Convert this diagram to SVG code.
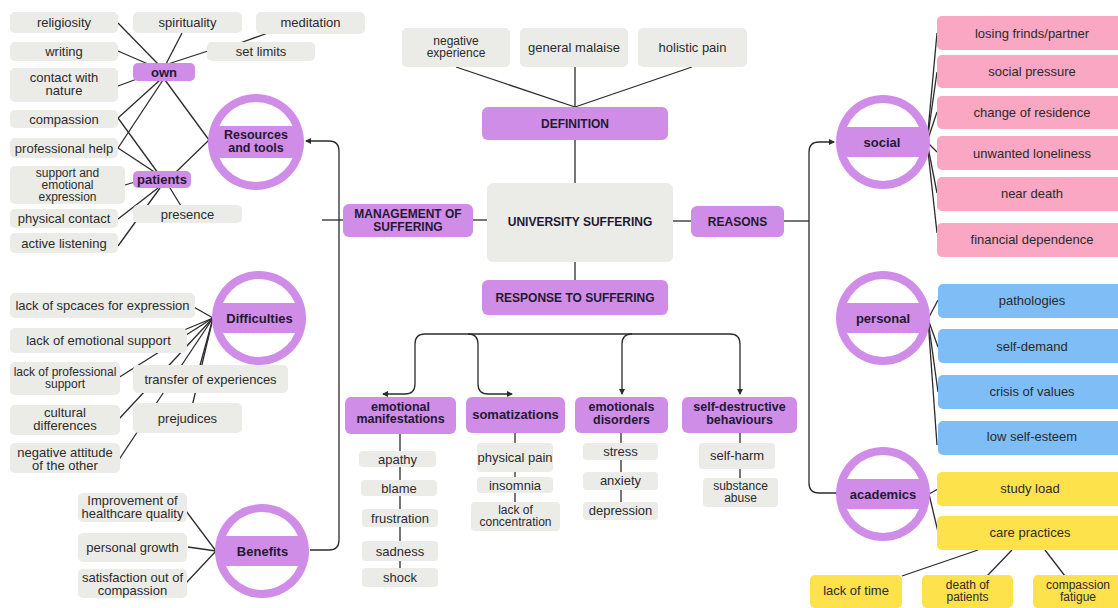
<svg xmlns="http://www.w3.org/2000/svg" width="1118" height="608" viewBox="0 0 1118 608">
<style>
.g{fill:#ebebe8}
.p{fill:#cf8de8}
.pk{fill:#f9a7c3}
.bl{fill:#7fbdf6}
.yl{fill:#fde24b}
.t{font-family:"Liberation Sans",Arial,sans-serif;font-size:13px;fill:#2b2b2b;text-anchor:middle}
.s{font-size:12px}
.b{font-weight:bold;fill:#231a31}
.cap{font-size:12px}
.b2{font-size:12.5px}
.ln{stroke:#2b2b2b;stroke-width:1.3;fill:none}
.ring{fill:#cf8de8}
.hole{fill:#ffffff}
</style>
<defs>
<marker id="ah" viewBox="0 0 6 6" refX="5" refY="3" markerWidth="6" markerHeight="6" markerUnits="userSpaceOnUse" orient="auto">
<path d="M0,0 L6,3 L0,6 z" fill="#2b2b2b"/>
</marker>
</defs>
<rect width="1118" height="608" fill="#ffffff"/>

<g id="connectors" class="ln">
<!-- own -->
<line x1="118" y1="23" x2="158" y2="64"/>
<line x1="118" y1="51" x2="148" y2="64"/>
<line x1="182" y1="33" x2="166" y2="64"/>
<line x1="208" y1="51" x2="168" y2="64"/>
<line x1="268" y1="33" x2="240" y2="43"/>
<line x1="118" y1="86" x2="137" y2="79"/>
<line x1="118" y1="118" x2="160" y2="80"/>
<line x1="118" y1="118" x2="158" y2="173"/>
<line x1="118" y1="148" x2="163" y2="80"/>
<line x1="118" y1="148" x2="156" y2="173"/>
<line x1="165" y1="80" x2="209" y2="140"/>
<line x1="176" y1="172" x2="209" y2="140"/>
<line x1="125" y1="185" x2="135" y2="182"/>
<line x1="118" y1="219" x2="158" y2="188"/>
<line x1="118" y1="246" x2="160" y2="188"/>
<line x1="181" y1="206" x2="170" y2="188"/>
<!-- difficulties -->
<line x1="213" y1="318" x2="192" y2="306"/>
<line x1="213" y1="318" x2="160" y2="340"/>
<line x1="213" y1="318" x2="118" y2="378"/>
<line x1="213" y1="318" x2="196" y2="380"/>
<line x1="213" y1="318" x2="118" y2="420"/>
<line x1="213" y1="318" x2="190" y2="415"/>
<line x1="213" y1="318" x2="118" y2="461"/>
<!-- benefits -->
<line x1="216" y1="551" x2="186" y2="511"/>
<line x1="216" y1="551" x2="188" y2="547"/>
<line x1="216" y1="551" x2="186" y2="583"/>
<!-- management -->
<line x1="322" y1="220" x2="343" y2="220"/>
<path d="M310 550 H329 Q339 550 339 540 V151 Q339 141 329 141 H306" marker-end="url(#ah)"/>
<line x1="473" y1="220" x2="487" y2="220"/>
<!-- definition -->
<line x1="456" y1="67" x2="575" y2="107"/>
<line x1="575" y1="67" x2="575" y2="107"/>
<line x1="692" y1="67" x2="575" y2="107"/>
<line x1="575" y1="140" x2="575" y2="183"/>
<line x1="575" y1="262" x2="575" y2="280"/>
<!-- reasons -->
<line x1="673" y1="221" x2="691" y2="221"/>
<line x1="784" y1="221" x2="809" y2="221"/>
<path d="M837 493 H819 Q809 493 809 483 V152 Q809 142 819 142 H834" marker-end="url(#ah)"/>
<!-- response tree -->
<path d="M425 334 H730 Q740 334 740 344 V394" marker-end="url(#ah)"/>
<path d="M632 334 Q622 334 622 344 V394" marker-end="url(#ah)"/>
<path d="M425 334 Q415 334 415 344 V384 Q415 394 405 394 H383" marker-end="url(#ah)"/>
<path d="M468 334 Q478 334 478 344 V384 Q478 394 488 394 H512" marker-end="url(#ah)"/>
<line x1="400" y1="433" x2="400" y2="570"/>
<line x1="515" y1="433" x2="515" y2="505"/>
<line x1="621" y1="433" x2="621" y2="505"/>
<line x1="740" y1="433" x2="740" y2="480"/>
<!-- social -->
<line x1="927" y1="142" x2="937" y2="33"/>
<line x1="927" y1="142" x2="937" y2="72"/>
<line x1="927" y1="142" x2="937" y2="112"/>
<line x1="927" y1="142" x2="937" y2="152"/>
<line x1="927" y1="142" x2="937" y2="193"/>
<line x1="927" y1="142" x2="937" y2="233"/>
<!-- personal -->
<line x1="928" y1="319" x2="938" y2="300"/>
<line x1="928" y1="319" x2="938" y2="347"/>
<line x1="928" y1="319" x2="938" y2="392"/>
<line x1="928" y1="319" x2="937" y2="445"/>
<!-- academics -->
<line x1="929" y1="494" x2="938" y2="489"/>
<line x1="929" y1="494" x2="938" y2="532"/>
<line x1="978" y1="550" x2="902" y2="576"/>
<line x1="1012" y1="550" x2="987" y2="576"/>
<line x1="1045" y1="550" x2="1065" y2="576"/>
</g>

<!-- left top: own / patients -->
<g id="religiosity"><rect class="g" x="10" y="12" width="108" height="21" rx="5"/><text class="t" x="64" y="27">religiosity</text></g>
<g id="spirituality"><rect class="g" x="133" y="12" width="109" height="21" rx="5"/><text class="t" x="187.5" y="27">spirituality</text></g>
<g id="meditation"><rect class="g" x="256" y="12" width="109" height="22" rx="5"/><text class="t" x="310.5" y="27">meditation</text></g>
<g id="writing"><rect class="g" x="10" y="42" width="108" height="19" rx="5"/><text class="t" x="64" y="55.5">writing</text></g>
<g id="set-limits"><rect class="g" x="207" y="42" width="108" height="19" rx="5"/><text class="t" x="261" y="55.5">set limits</text></g>
<g id="contact-nature"><rect class="g" x="10" y="68" width="108" height="34" rx="5"/><text class="t" x="64" y="82">contact with<tspan x="64" dy="13">nature</tspan></text></g>
<g id="own"><rect class="p" x="133" y="63" width="62" height="18" rx="5"/><text class="t b" x="164" y="76.5">own</text></g>
<g id="compassion"><rect class="g" x="10" y="110" width="108" height="18" rx="5"/><text class="t" x="64" y="123.5">compassion</text></g>
<g id="professional-help"><rect class="g" x="10" y="138" width="108" height="20" rx="5"/><text class="t" x="64" y="152.5">professional help</text></g>
<g id="support-emotional"><rect class="g" x="10" y="166" width="115" height="38" rx="5"/><text class="t s" x="67.5" y="177">support and<tspan x="67.5" dy="12">emotional</tspan><tspan x="67.5" dy="12">expression</tspan></text></g>
<g id="patients"><rect class="p" x="133" y="171" width="58" height="17" rx="5"/><text class="t b" x="162" y="184">patients</text></g>
<g id="physical-contact"><rect class="g" x="10" y="209" width="108" height="19" rx="5"/><text class="t" x="64" y="222.5">physical contact</text></g>
<g id="presence"><rect class="g" x="133" y="205" width="109" height="18" rx="5"/><text class="t" x="187.5" y="218.5">presence</text></g>
<g id="active-listening"><rect class="g" x="10" y="233" width="108" height="20" rx="5"/><text class="t" x="64" y="247.5">active listening</text></g>
<g id="resources"><circle class="ring" cx="256" cy="142" r="48"/><circle class="hole" cx="256" cy="142" r="40"/><rect class="p" x="216" y="126" width="80" height="32"/><text class="t b b2" x="256" y="139">Resources<tspan x="256" dy="12.5">and tools</tspan></text></g>

<!-- difficulties -->
<g id="lack-spaces"><rect class="g" x="10" y="293" width="185" height="25" rx="5"/><text class="t" x="102.5" y="310">lack of spcaces for expression</text></g>
<g id="lack-emotional"><rect class="g" x="10" y="328" width="177" height="25" rx="5"/><text class="t" x="98.5" y="345">lack of emotional support</text></g>
<g id="lack-professional"><rect class="g" x="10" y="362" width="110" height="33" rx="5"/><text class="t s" x="65" y="376">lack of professional<tspan x="65" dy="12">support</tspan></text></g>
<g id="transfer"><rect class="g" x="133" y="365" width="155" height="28" rx="5"/><text class="t" x="210.5" y="383.5">transfer of experiences</text></g>
<g id="cultural"><rect class="g" x="10" y="405" width="110" height="30" rx="5"/><text class="t" x="65" y="416.5">cultural<tspan x="65" dy="13">differences</tspan></text></g>
<g id="prejudices"><rect class="g" x="133" y="403" width="109" height="30" rx="5"/><text class="t" x="187.5" y="422.5">prejudices</text></g>
<g id="negative-attitude"><rect class="g" x="10" y="443" width="110" height="30" rx="5"/><text class="t" x="65" y="457">negative attitude<tspan x="65" dy="13">of the other</tspan></text></g>
<g id="difficulties"><circle class="ring" cx="259" cy="318" r="47"/><circle class="hole" cx="259" cy="318" r="39"/><rect class="p" x="220" y="303" width="78" height="30"/><text class="t b" x="259.5" y="322.5">Difficulties</text></g>

<!-- benefits -->
<g id="improvement"><rect class="g" x="78" y="493" width="109" height="29" rx="5"/><text class="t" x="132.5" y="504.5">Improvement of<tspan x="132.5" dy="13">healthcare quality</tspan></text></g>
<g id="personal-growth"><rect class="g" x="78" y="533" width="109" height="29" rx="5"/><text class="t" x="132.5" y="552">personal growth</text></g>
<g id="satisfaction"><rect class="g" x="78" y="569" width="109" height="29" rx="5"/><text class="t" x="132.5" y="581.5">satisfaction out of<tspan x="132.5" dy="13">compassion</tspan></text></g>
<g id="benefits"><circle class="ring" cx="262" cy="551" r="47"/><circle class="hole" cx="262" cy="551" r="39"/><rect class="p" x="223" y="536" width="78" height="30"/><text class="t b" x="262.5" y="555.5">Benefits</text></g>

<!-- center -->
<g id="negative-experience"><rect class="g" x="402" y="28" width="108" height="39" rx="5"/><text class="t s" x="456" y="45">negative<tspan x="456" dy="12">experience</tspan></text></g>
<g id="general-malaise"><rect class="g" x="520" y="28" width="108" height="39" rx="5"/><text class="t" x="574" y="51.5">general malaise</text></g>
<g id="holistic-pain"><rect class="g" x="638" y="28" width="109" height="39" rx="5"/><text class="t" x="692.5" y="51.5">holistic pain</text></g>
<g id="definition"><rect class="p" x="482" y="107" width="186" height="33" rx="6"/><text class="t b cap" x="575" y="128">DEFINITION</text></g>
<g id="university-suffering"><rect class="g" x="487" y="183" width="186" height="79" rx="6"/><text class="t b cap" x="580" y="226">UNIVERSITY SUFFERING</text></g>
<g id="management"><rect class="p" x="343" y="204" width="130" height="33" rx="6"/><text class="t b cap" x="408" y="218">MANAGEMENT OF<tspan x="408" dy="12.5">SUFFERING</tspan></text></g>
<g id="reasons"><rect class="p" x="691" y="206" width="93" height="31" rx="6"/><text class="t b cap" x="737.5" y="225.5">REASONS</text></g>
<g id="response"><rect class="p" x="482" y="280" width="186" height="35" rx="6"/><text class="t b cap" x="575" y="301.5">RESPONSE TO SUFFERING</text></g>

<!-- response categories -->
<g id="emotional-manifestations"><rect class="p" x="345" y="397" width="111" height="37" rx="6"/><text class="t b b2" x="400.5" y="410.5">emotional<tspan x="400.5" dy="12.5">manifestations</tspan></text></g>
<g id="somatizations"><rect class="p" x="466" y="397" width="99" height="36" rx="6"/><text class="t b" x="515.5" y="419">somatizations</text></g>
<g id="emotionals-disorders"><rect class="p" x="575" y="397" width="93" height="36" rx="6"/><text class="t b b2" x="621.5" y="411">emotionals<tspan x="621.5" dy="12.5">disorders</tspan></text></g>
<g id="self-destructive"><rect class="p" x="682" y="397" width="115" height="36" rx="6"/><text class="t b b2" x="739.5" y="411">self-destructive<tspan x="739.5" dy="12.5">behaviours</tspan></text></g>

<g id="apathy"><rect class="g" x="359" y="451" width="77" height="16" rx="4"/><text class="t" x="397.5" y="463.5">apathy</text></g>
<g id="blame"><rect class="g" x="361" y="480" width="76" height="16" rx="4"/><text class="t" x="399" y="492.5">blame</text></g>
<g id="frustration"><rect class="g" x="362" y="509" width="76" height="18" rx="4"/><text class="t" x="400" y="522.5">frustration</text></g>
<g id="sadness"><rect class="g" x="362" y="541" width="76" height="20" rx="4"/><text class="t" x="400" y="555.5">sadness</text></g>
<g id="shock"><rect class="g" x="362" y="568" width="76" height="19" rx="4"/><text class="t" x="400" y="582">shock</text></g>
<g id="physical-pain"><rect class="g" x="477" y="443" width="76" height="29" rx="4"/><text class="t" x="515" y="461.5">physical pain</text></g>
<g id="insomnia"><rect class="g" x="477" y="477" width="76" height="16" rx="4"/><text class="t" x="515" y="489.5">insomnia</text></g>
<g id="lack-concentration"><rect class="g" x="471" y="502" width="89" height="29" rx="4"/><text class="t s" x="515.5" y="514">lack of<tspan x="515.5" dy="12">concentration</tspan></text></g>
<g id="stress"><rect class="g" x="583" y="443" width="75" height="17" rx="4"/><text class="t" x="620.5" y="455.5">stress</text></g>
<g id="anxiety"><rect class="g" x="583" y="472" width="75" height="18" rx="4"/><text class="t" x="620.5" y="484.5">anxiety</text></g>
<g id="depression"><rect class="g" x="583" y="502" width="75" height="18" rx="4"/><text class="t" x="620.5" y="515">depression</text></g>
<g id="self-harm"><rect class="g" x="699" y="443" width="76" height="26" rx="4"/><text class="t" x="737" y="460">self-harm</text></g>
<g id="substance-abuse"><rect class="g" x="703" y="478" width="75" height="29" rx="4"/><text class="t s" x="740.5" y="490">substance<tspan x="740.5" dy="12">abuse</tspan></text></g>

<!-- social -->
<g id="losing"><rect class="pk" x="937" y="16" width="190" height="34" rx="5"/><text class="t" x="1032" y="37.5">losing frinds/partner</text></g>
<g id="social-pressure"><rect class="pk" x="937" y="55" width="190" height="33" rx="5"/><text class="t" x="1032" y="76">social pressure</text></g>
<g id="change-residence"><rect class="pk" x="937" y="96" width="190" height="33" rx="5"/><text class="t" x="1032" y="117">change of residence</text></g>
<g id="unwanted-loneliness"><rect class="pk" x="937" y="136" width="190" height="34" rx="5"/><text class="t" x="1032" y="157.5">unwanted loneliness</text></g>
<g id="near-death"><rect class="pk" x="937" y="177" width="190" height="34" rx="5"/><text class="t" x="1032" y="198">near death</text></g>
<g id="financial-dependence"><rect class="pk" x="937" y="223" width="190" height="34" rx="5"/><text class="t" x="1032" y="243.5">financial dependence</text></g>
<g id="social"><circle class="ring" cx="883" cy="142" r="47"/><circle class="hole" cx="883" cy="142" r="39"/><rect class="p" x="844" y="127" width="78" height="30"/><text class="t b" x="882" y="146.5">social</text></g>

<!-- personal -->
<g id="pathologies"><rect class="bl" x="938" y="284" width="190" height="34" rx="5"/><text class="t" x="1032" y="305">pathologies</text></g>
<g id="self-demand"><rect class="bl" x="938" y="329" width="190" height="34" rx="5"/><text class="t" x="1032" y="350.5">self-demand</text></g>
<g id="crisis-values"><rect class="bl" x="938" y="375" width="190" height="34" rx="5"/><text class="t" x="1032" y="395.5">crisis of values</text></g>
<g id="low-self-esteem"><rect class="bl" x="938" y="421" width="190" height="34" rx="5"/><text class="t" x="1032" y="441">low self-esteem</text></g>
<g id="personal"><circle class="ring" cx="883" cy="318" r="47"/><circle class="hole" cx="883" cy="318" r="39"/><rect class="p" x="844" y="303" width="78" height="30"/><text class="t b" x="883" y="323">personal</text></g>

<!-- academics -->
<g id="study-load"><rect class="yl" x="937" y="472" width="190" height="34" rx="5"/><text class="t" x="1030" y="492.5">study load</text></g>
<g id="care-practices"><rect class="yl" x="937" y="516" width="190" height="34" rx="5"/><text class="t" x="1030" y="537">care practices</text></g>
<g id="lack-time"><rect class="yl" x="810" y="575" width="92" height="33" rx="5"/><text class="t" x="856" y="595">lack of time</text></g>
<g id="death-patients"><rect class="yl" x="922" y="575" width="91" height="33" rx="5"/><text class="t s" x="967.5" y="589">death of<tspan x="967.5" dy="12">patients</tspan></text></g>
<g id="compassion-fatigue"><rect class="yl" x="1033" y="575" width="94" height="33" rx="5"/><text class="t s" x="1078" y="589">compassion<tspan x="1078" dy="12">fatigue</tspan></text></g>
<g id="academics"><circle class="ring" cx="883" cy="494" r="47"/><circle class="hole" cx="883" cy="494" r="39"/><rect class="p" x="844" y="479" width="78" height="30"/><text class="t b" x="883" y="498.5">academics</text></g>
</svg>
